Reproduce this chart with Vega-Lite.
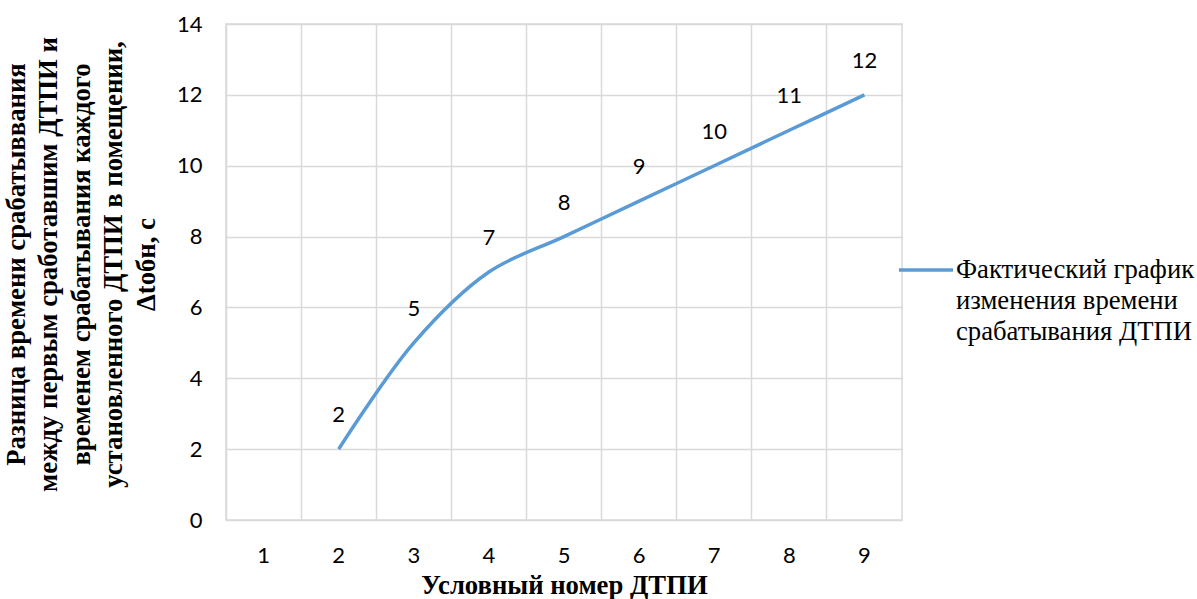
{
  "$schema": "https://vega.github.io/schema/vega-lite/v6.json",
  "width": 676,
  "height": 496,
  "autosize": "none",
  "padding": {"left": 226, "top": 24, "right": 295, "bottom": 79},
  "background": "white",
  "config": {
    "view": {"stroke": "#d9d9d9", "strokeWidth": 1.5},
    "style": {"guide-label": {"lineHeight": 31}}
  },
  "data": {
    "values": [
      {"n": 2, "v": 2, "series": "Фактический график изменения времени срабатывания ДТПИ"},
      {"n": 3, "v": 5, "series": "Фактический график изменения времени срабатывания ДТПИ"},
      {"n": 4, "v": 7, "series": "Фактический график изменения времени срабатывания ДТПИ"},
      {"n": 5, "v": 8, "series": "Фактический график изменения времени срабатывания ДТПИ"},
      {"n": 6, "v": 9, "series": "Фактический график изменения времени срабатывания ДТПИ"},
      {"n": 7, "v": 10, "series": "Фактический график изменения времени срабатывания ДТПИ"},
      {"n": 8, "v": 11, "series": "Фактический график изменения времени срабатывания ДТПИ"},
      {"n": 9, "v": 12, "series": "Фактический график изменения времени срабатывания ДТПИ"}
    ]
  },
  "encoding": {
    "x": {
      "field": "n",
      "type": "ordinal",
      "scale": {"type": "band", "domain": [1, 2, 3, 4, 5, 6, 7, 8, 9], "paddingInner": 0, "paddingOuter": 0},
      "axis": {
        "title": "Условный номер ДТПИ",
        "titleFont": "Liberation Serif",
        "titleFontWeight": "bold",
        "titleFontSize": 26.7,
        "titleColor": "#000000",
        "titleBaseline": "middle",
        "titleY": 65,
        "bandPosition": 0,
        "labelAngle": 0,
        "labelFont": "Lato",
        "labelFontSize": 22,
        "labelColor": "#000000",
        "labelPadding": 25,
        "ticks": false,
        "tickSize": 0,
        "domain": false,
        "grid": true,
        "gridColor": "#d9d9d9",
        "gridWidth": 1.5
      }
    },
    "y": {
      "field": "v",
      "type": "quantitative",
      "scale": {"domain": [0, 14], "nice": false, "zero": true},
      "axis": {
        "title": ["Разница времени срабатыввания", "между первым сработавшим ДТПИ и", "временем срабатывания каждого", "установленного ДТПИ в помещении,", "Δtобн, с"],
        "titleFont": "Liberation Serif",
        "titleFontWeight": "bold",
        "titleFontSize": 26.7,
        "titleLineHeight": 32.5,
        "titleColor": "#000000",
        "titleAngle": -90,
        "titleAlign": "center",
        "titleBaseline": "middle",
        "titleX": -210,
        "titleY": 240,
        "values": [0, 2, 4, 6, 8, 10, 12, 14],
        "labelFont": "Lato",
        "labelFontSize": 22,
        "labelColor": "#000000",
        "labelPadding": 24,
        "ticks": false,
        "tickSize": 0,
        "domain": false,
        "grid": true,
        "gridColor": "#d9d9d9",
        "gridWidth": 1.5
      }
    }
  },
  "layer": [
    {
      "mark": {"type": "line", "interpolate": "catmull-rom", "strokeWidth": 3.5},
      "encoding": {
        "color": {
          "field": "series",
          "type": "nominal",
          "scale": {"range": ["#5b9bd5"]},
          "legend": {
            "title": null,
            "orient": "none",
            "legendX": 671,
            "legendY": 217,
            "padding": 0,
            "symbolType": "stroke",
            "symbolSize": 2916,
            "symbolStrokeWidth": 3.5,
            "labelFont": "Liberation Serif",
            "labelFontSize": 26.7,
            "labelColor": "#000000",
            "labelOffset": 1,
            "labelLimit": 0,
            "labelBaseline": "middle",
            "labelExpr": "['Фактический график', 'изменения времени', 'срабатывания ДТПИ']"
          }
        }
      }
    },
    {
      "mark": {"type": "text", "dy": -34, "font": "Lato", "fontSize": 22, "baseline": "middle", "color": "#000000"},
      "encoding": {"text": {"field": "v", "type": "quantitative"}}
    }
  ]
}
